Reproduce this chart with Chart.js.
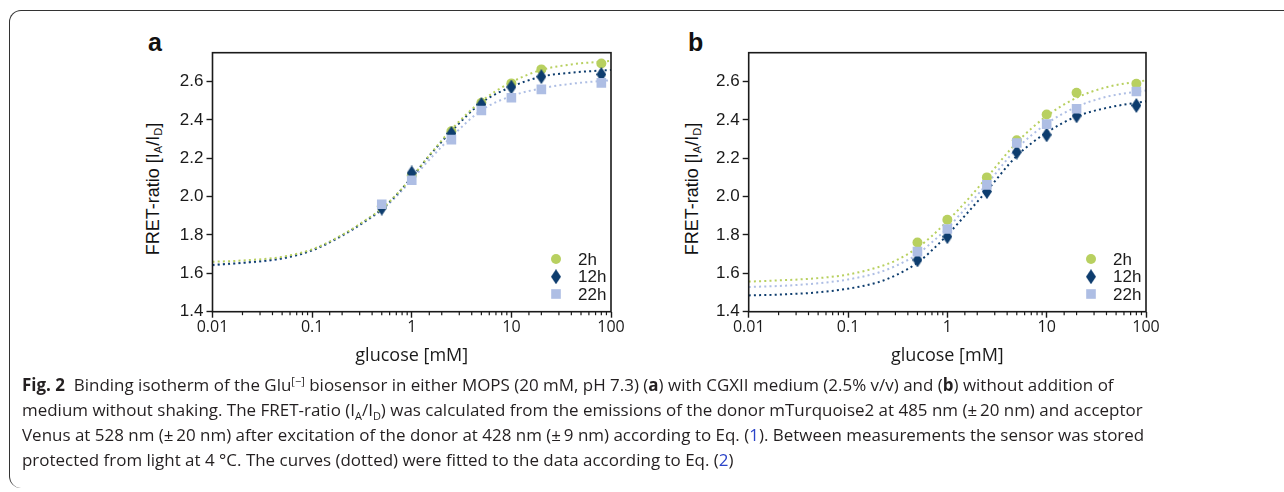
<!DOCTYPE html>
<html>
<head>
<meta charset="utf-8">
<script src="https://cdn.jsdelivr.net/npm/chart.js@4.4.1/dist/chart.umd.min.js"></script>
<style>
html,body{margin:0;padding:0;background:#fff;width:1284px;height:492px;overflow:hidden;}
#frame{position:absolute;left:9px;top:10px;width:1320px;height:478px;border:1.2px solid #333;border-bottom:none;border-radius:12px;box-sizing:border-box;}
canvas{position:absolute;}
.plab{position:absolute;font:bold 25px "Liberation Sans",Arial,sans-serif;color:#111;line-height:1;}
.ytitle{position:absolute;font:18px "Liberation Sans",Arial,sans-serif;color:#111;white-space:nowrap;transform:translate(-50%,-50%) rotate(-90deg);}
.ytitle sub{font-size:11px;vertical-align:-3px;}
#cap{position:absolute;left:22px;top:372px;font-family:"Open Sans",sans-serif;font-size:17px;color:#231f20;line-height:25px;}
#cap div{white-space:nowrap;transform-origin:0 0;display:block;width:max-content;}
#cap sup{font-size:11px;vertical-align:6px;line-height:0;}
#cap sub{font-size:11px;vertical-align:-4px;line-height:0;}
#cap .lk{color:#2b44c8;}
</style>
</head>
<body>
<div id="frame"></div>
<div class="plab" style="left:148px;top:30px;">a</div>
<div class="plab" style="left:688px;top:30px;">b</div>
<div class="ytitle" style="left:153px;top:189px;">FRET-ratio [I<sub>A</sub>/I<sub>D</sub>]</div>
<div class="ytitle" style="left:692px;top:189px;">FRET-ratio [I<sub>A</sub>/I<sub>D</sub>]</div>
<canvas id="ca" width="520" height="345" style="left:120px;top:30px;"></canvas>
<canvas id="cb" width="520" height="345" style="left:656px;top:30px;"></canvas>
<div id="cap">
<div><b>Fig. 2</b>&nbsp; Binding isotherm of the Glu<sup>[−]</sup> biosensor in either MOPS (20 mM, pH 7.3) (<b>a</b>) with CGXII medium (2.5% v/v) and (<b>b</b>) without addition of</div>
<div>medium without shaking. The FRET-ratio (I<sub>A</sub>/I<sub>D</sub>) was calculated from the emissions of the donor mTurquoise2 at 485 nm (±&thinsp;20 nm) and acceptor</div>
<div>Venus at 528 nm (±&thinsp;20 nm) after excitation of the donor at 428 nm (±&thinsp;9 nm) according to Eq. (<span class="lk">1</span>). Between measurements the sensor was stored</div>
<div>protected from light at 4 °C. The curves (dotted) were fitted to the data according to Eq. (<span class="lk">2</span>)</div>
</div>
<script>
// ---- data ----
const seriesLabels = ['2h', '12h', '22h'];
const glucose = [0.5, 1, 2.5, 5, 10, 20, 80];
const xTickLabels = ['0.01', '0.1', '1', '10', '100'];
const xTitle = 'glucose [mM]';

const a2h  = [1.95, 2.11, 2.341, 2.489, 2.590, 2.663, 2.694];
const a12h = [1.94, 2.123, 2.329, 2.480, 2.571, 2.625, 2.637];
const a22h = [1.96, 2.085, 2.297, 2.449, 2.515, 2.559, 2.593];

const b2h  = [1.761, 1.879, 2.100, 2.294, 2.428, 2.541, 2.588];
const b12h = [1.670, 1.791, 2.026, 2.232, 2.322, 2.421, 2.475];
const b22h = [1.713, 1.831, 2.061, 2.279, 2.378, 2.458, 2.548];

// fitted curves (dotted)
const fitXa = [0.01, 0.02, 0.05, 0.1, 0.2, 0.35, 0.5, 0.7, 1, 1.5, 2.5, 5, 10, 20, 40, 100];
const fitA2h  = [1.660, 1.667, 1.686, 1.725, 1.800, 1.880, 1.937, 2.010, 2.100, 2.215, 2.350, 2.497, 2.596, 2.660, 2.689, 2.707];
const fitA12h = [1.644, 1.655, 1.678, 1.720, 1.797, 1.876, 1.934, 2.008, 2.100, 2.213, 2.340, 2.489, 2.572, 2.625, 2.646, 2.660];
const fitA22h = [1.642, 1.653, 1.676, 1.719, 1.795, 1.873, 1.930, 2.000, 2.088, 2.192, 2.311, 2.450, 2.524, 2.564, 2.588, 2.607];

const fitXb = [0.01, 0.02, 0.05, 0.1, 0.2, 0.3, 0.5, 0.7, 1, 1.5, 2.5, 5, 10, 20, 40, 100];
const fitB2h  = [1.557, 1.563, 1.575, 1.594, 1.632, 1.666, 1.733, 1.795, 1.872, 1.968, 2.100, 2.282, 2.420, 2.515, 2.570, 2.606];
const fitB12h = [1.485, 1.489, 1.501, 1.520, 1.553, 1.589, 1.655, 1.720, 1.800, 1.900, 2.030, 2.212, 2.334, 2.418, 2.462, 2.497];
const fitB22h = [1.529, 1.534, 1.548, 1.568, 1.603, 1.638, 1.700, 1.762, 1.835, 1.935, 2.065, 2.250, 2.380, 2.468, 2.520, 2.553];

// ---- styles ----
const colors = ['#b8d060', '#0e3d6e', '#aebee4'];
const ink = '#1a1a1a';

function makeDiamond(w, h, color) {
  const c = document.createElement('canvas');
  c.width = w; c.height = h;
  const g = c.getContext('2d');
  g.fillStyle = color;
  g.beginPath();
  g.moveTo(w / 2, 0); g.lineTo(w, h / 2); g.lineTo(w / 2, h); g.lineTo(0, h / 2);
  g.closePath(); g.fill();
  return c;
}
const diamond = makeDiamond(10, 15, colors[1]);
const pointStyles = ['circle', diamond, 'rect'];
const pointRadii = [5, 5, 6.8];

function isDecade(v) {
  if (v == null || v <= 0) return false;
  const l = Math.log10(v);
  return Math.abs(l - Math.round(l)) < 1e-6;
}

const framePlugin = {
  id: 'frameLegend',
  afterDraw(chart) {
    const {ctx, chartArea: a} = chart;
    const x = chart.scales.x;
    ctx.save();
    ctx.strokeStyle = ink;
    ctx.lineWidth = 1.2;
    x.ticks.forEach(t => {
      if (!isDecade(t.value)) {
        const px = x.getPixelForValue(t.value);
        ctx.beginPath(); ctx.moveTo(px, a.bottom); ctx.lineTo(px, a.bottom + 3.5); ctx.stroke();
      }
    });
    ctx.lineWidth = 1.6;
    ctx.strokeRect(a.left, a.top, a.right - a.left, a.bottom - a.top);
    // legend
    const rows = [a.bottom - 52.7, a.bottom - 35, a.bottom - 17.7];
    ctx.font = '17px "Liberation Sans", Arial, sans-serif';
    ctx.textBaseline = 'middle';
    ctx.textAlign = 'left';
    seriesLabels.forEach((lab, i) => {
      ctx.fillStyle = colors[i];
      Chart.helpers.drawPoint(ctx, {pointStyle: pointStyles[i], rotation: 0, radius: pointRadii[i], borderWidth: 0}, a.right - 55, rows[i]);
      ctx.fillStyle = ink;
      ctx.fillText(lab, a.right - 33, rows[i] + 1);
    });
    ctx.restore();
  }
};

function makeChart(id, series, fitX, fits, leftW, padRight) {
  const datasets = [];
  fits.forEach((f, i) => {
    datasets.push({
      label: seriesLabels[i] + ' fit',
      data: fitX.map((x, j) => ({x: x, y: f[j]})),
      showLine: true, borderColor: colors[i], borderWidth: 2, borderDash: [2, 3.2],
      pointRadius: 0, cubicInterpolationMode: 'monotone', fill: false, order: 10
    });
  });
  series.forEach((s, i) => {
    datasets.push({
      label: seriesLabels[i],
      data: glucose.map((x, j) => ({x: x, y: s[j]})),
      showLine: false, pointStyle: pointStyles[i], pointRadius: pointRadii[i],
      backgroundColor: colors[i], borderColor: colors[i], borderWidth: 0, order: 3 - i
    });
  });
  return new Chart(document.getElementById(id), {
    type: 'scatter',
    data: {datasets: datasets},
    plugins: [framePlugin],
    options: {
      responsive: false, animation: false, events: [],
      layout: {padding: {left: 0, right: padRight, top: 22.7, bottom: 0}},
      plugins: {legend: {display: false}, tooltip: {enabled: false}},
      scales: {
        x: {
          type: 'logarithmic', min: 0.01, max: 100, position: 'bottom',
          afterFit(s) { s.height = 63.3; },
          border: {display: false},
          grid: {
            drawOnChartArea: false, drawTicks: true, tickLength: 6, tickWidth: 1.4,
            color: ink,
            tickColor: c => (c.tick && isDecade(c.tick.value)) ? ink : 'rgba(0,0,0,0)'
          },
          ticks: {
            autoSkip: false, maxRotation: 0, padding: 0, color: ink,
            font: {family: 'Open Sans', size: 16},
            callback: v => isDecade(v) ? xTickLabels[Math.round(Math.log10(v)) + 2] : ''
          },
          title: {display: true, text: xTitle, color: ink, font: {family: 'Open Sans', size: 18}, padding: {top: 0, bottom: 8}}
        },
        y: {
          min: 1.4, max: 2.75,
          afterFit(s) { s.width = leftW; },
          border: {display: false},
          grid: {drawOnChartArea: false, drawTicks: true, tickLength: 6, tickWidth: 1.4, color: ink},
          ticks: {
            stepSize: 0.2, includeBounds: false, padding: 3, color: ink,
            font: {family: 'Liberation Sans', size: 17},
            callback: v => v.toFixed(1)
          }
        }
      }
    }
  });
}

makeChart('ca', [a2h, a12h, a22h], fitXa, [fitA2h, fitA12h, fitA22h], 92.5, 29);
makeChart('cb', [b2h, b12h, b22h], fitXb, [fitB2h, fitB12h, fitB22h], 92.7, 30);

// fit caption width (condensed face in original)
(function () {
  const lines = Array.from(document.querySelectorAll('#cap > div'));
  const targets = [1094, 1105, 1106, 741];
  let nat = 0, tgt = 0;
  lines.forEach((l, i) => { nat += l.getBoundingClientRect().width; tgt += targets[i]; });
  const s = tgt / nat;
  lines.forEach(l => { l.style.transform = 'scaleX(' + s.toFixed(4) + ')'; });
})();
</script>
</body>
</html>
